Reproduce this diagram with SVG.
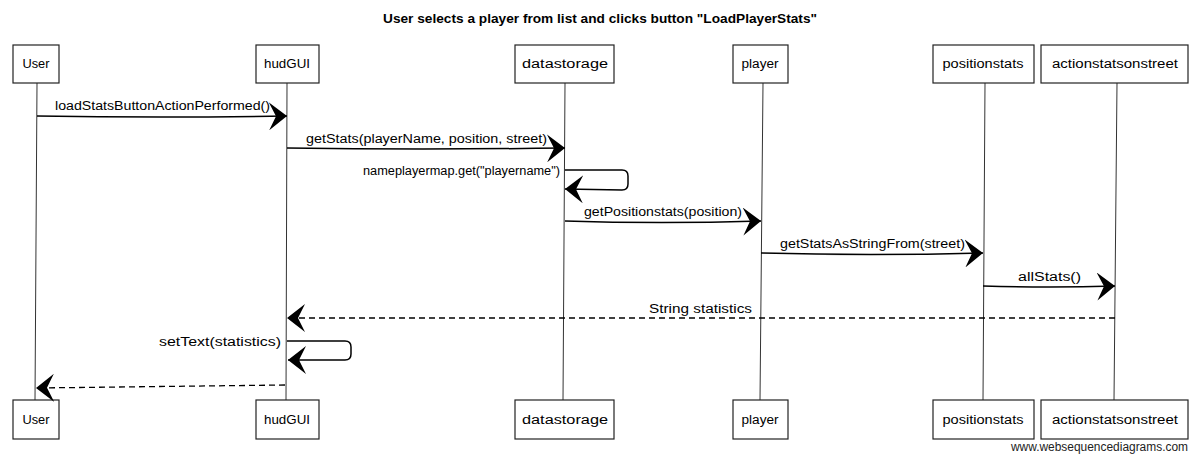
<svg xmlns="http://www.w3.org/2000/svg" width="1200" height="460" viewBox="0 0 1200 460">
<style>
.box{fill:#fff;stroke:#222;stroke-width:1.2}
.life{fill:none;stroke:#333;stroke-width:1}
.lbl{font-family:"Liberation Sans",Arial,sans-serif;font-size:12px;fill:#000}
.plbl{font-family:"Liberation Sans",Arial,sans-serif;font-size:12px;fill:#000;text-anchor:middle}
.title{font-family:"Liberation Sans",Arial,sans-serif;font-size:13px;font-weight:bold;fill:#000;text-anchor:middle}
.msg{fill:none;stroke:#000;stroke-width:1.5}
.ret{fill:none;stroke:#000;stroke-width:1.3;stroke-dasharray:6,4}
.wm{font-family:"Liberation Sans",Arial,sans-serif;font-size:12px;fill:#222}
</style>
<defs>
<marker id="ah" viewBox="0 0 18 28" refX="18" refY="14" markerWidth="18" markerHeight="28" markerUnits="userSpaceOnUse" orient="auto">
<path d="M0,0 L18,14 L0,28 L7,14 Z" fill="#000"/>
</marker>
</defs>
<rect width="1200" height="460" fill="#fff"/>
<text class="title" x="600" y="23" textLength="434" lengthAdjust="spacingAndGlyphs">User selects a player from list and clicks button "LoadPlayerStats"</text>

<g id="User">
<line class="life" x1="37" y1="83" x2="35" y2="400"/>
<rect class="box" x="13" y="45" width="46" height="38"/>
<text class="plbl" x="36" y="68" textLength="27" lengthAdjust="spacingAndGlyphs">User</text>
<rect class="box" x="13" y="400" width="46" height="39"/>
<text class="plbl" x="36" y="424" textLength="27" lengthAdjust="spacingAndGlyphs">User</text>
</g>
<g id="hudGUI">
<line class="life" x1="287" y1="83" x2="286" y2="400"/>
<rect class="box" x="256" y="45" width="63" height="38"/>
<text class="plbl" x="287" y="68" textLength="46" lengthAdjust="spacingAndGlyphs">hudGUI</text>
<rect class="box" x="256" y="400" width="63" height="39"/>
<text class="plbl" x="287" y="424" textLength="46" lengthAdjust="spacingAndGlyphs">hudGUI</text>
</g>
<g id="datastorage">
<line class="life" x1="565" y1="83" x2="563" y2="400"/>
<rect class="box" x="515" y="45" width="99" height="38"/>
<text class="plbl" x="565" y="68" textLength="86" lengthAdjust="spacingAndGlyphs">datastorage</text>
<rect class="box" x="515" y="400" width="99" height="39"/>
<text class="plbl" x="565" y="424" textLength="86" lengthAdjust="spacingAndGlyphs">datastorage</text>
</g>
<g id="player">
<line class="life" x1="763" y1="83" x2="760" y2="400"/>
<rect class="box" x="733" y="45" width="55" height="38"/>
<text class="plbl" x="760" y="68" textLength="37" lengthAdjust="spacingAndGlyphs">player</text>
<rect class="box" x="733" y="400" width="55" height="39"/>
<text class="plbl" x="760" y="424" textLength="37" lengthAdjust="spacingAndGlyphs">player</text>
</g>
<g id="positionstats">
<line class="life" x1="985" y1="83" x2="983" y2="400"/>
<rect class="box" x="933" y="45" width="101" height="38"/>
<text class="plbl" x="983" y="68" textLength="81" lengthAdjust="spacingAndGlyphs">positionstats</text>
<rect class="box" x="933" y="400" width="101" height="39"/>
<text class="plbl" x="983" y="424" textLength="81" lengthAdjust="spacingAndGlyphs">positionstats</text>
</g>
<g id="actionstatsonstreet">
<line class="life" x1="1117" y1="83" x2="1114" y2="400"/>
<rect class="box" x="1041" y="45" width="147" height="38"/>
<text class="plbl" x="1115" y="68" textLength="126" lengthAdjust="spacingAndGlyphs">actionstatsonstreet</text>
<rect class="box" x="1041" y="400" width="147" height="39"/>
<text class="plbl" x="1115" y="424" textLength="126" lengthAdjust="spacingAndGlyphs">actionstatsonstreet</text>
</g>

<g id="connectors">
<path class="msg" d="M37,116 Q160,118 287,116" marker-end="url(#ah)"/>
<text class="lbl" x="55" y="110" textLength="215" lengthAdjust="spacingAndGlyphs">loadStatsButtonActionPerformed()</text>

<path class="msg" d="M287,148 Q420,150 565,148" marker-end="url(#ah)"/>
<text class="lbl" x="306" y="143" textLength="241" lengthAdjust="spacingAndGlyphs">getStats(playerName, position, street)</text>

<path class="msg" d="M565,170 L622,170 Q628,170 628,176 L628,184 Q628,190 622,190 L565,189" marker-end="url(#ah)"/>
<text class="lbl" x="560" y="175" text-anchor="end" textLength="197" lengthAdjust="spacingAndGlyphs">nameplayermap.get("playername")</text>

<path class="msg" d="M565,221 Q660,224 761,221" marker-end="url(#ah)"/>
<text class="lbl" x="584" y="216" textLength="158" lengthAdjust="spacingAndGlyphs">getPositionstats(position)</text>

<path class="msg" d="M761,253 Q870,256 983,253" marker-end="url(#ah)"/>
<text class="lbl" x="780" y="248" textLength="185" lengthAdjust="spacingAndGlyphs">getStatsAsStringFrom(street)</text>

<path class="msg" d="M983,286 Q1050,288 1115,286" marker-end="url(#ah)"/>
<text class="lbl" x="1018" y="281" textLength="63" lengthAdjust="spacingAndGlyphs">allStats()</text>

<path class="ret" d="M1115,318 L287,318" marker-end="url(#ah)"/>
<text class="lbl" x="649" y="313" textLength="103" lengthAdjust="spacingAndGlyphs">String statistics</text>

<path class="msg" d="M287,341 L345,341 Q351,341 351,347 L351,354 Q351,360 345,360 L288,360" marker-end="url(#ah)"/>
<text class="lbl" x="281" y="346" text-anchor="end" textLength="122" lengthAdjust="spacingAndGlyphs">setText(statistics)</text>

<path class="ret" d="M285,385 L36,388" marker-end="url(#ah)"/>
</g>

<text class="wm" x="1011" y="451" textLength="177" lengthAdjust="spacingAndGlyphs">www.websequencediagrams.com</text>
</svg>
